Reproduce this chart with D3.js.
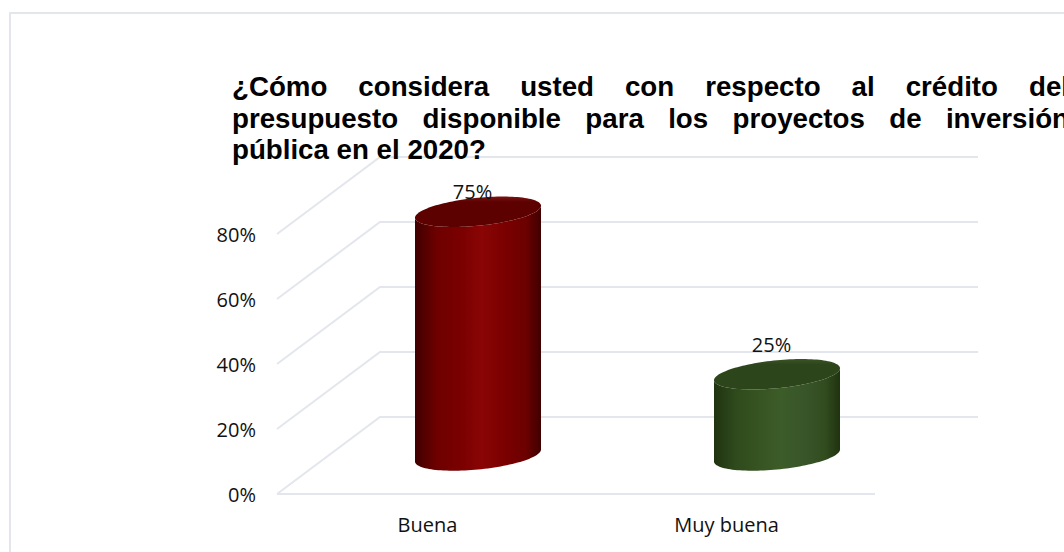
<!DOCTYPE html>
<html><head><meta charset="utf-8">
<style>html,body{margin:0;padding:0;background:#fff;overflow:hidden}svg{display:block}</style>
<script src="https://cdn.jsdelivr.net/npm/d3@7"></script></head><body>
<svg id="c" width="1064" height="552"></svg>
<script>
const categories = ["Buena", "Muy buena"];
const values = [75, 25];
const valueLabels = ["75%", "25%"];
const ticks = [0, 20, 40, 60, 80];
const titleLines = [
  "¿Cómo considera usted con respecto al crédito del",
  "presupuesto disponible para los proyectos de inversión",
  "pública en el 2020?"
];
const W = 1064, H = 552;
const svg = d3.select("#c");
const x = d3.scaleBand().domain(categories).range([277, 875]);
const y = d3.scaleLinear().domain([0, 80]).range([494, 234]);
const depthX = 103, depthY = -77;
const gridColor = "#e3e6ed";
const bodyFont = "'Open Sans','Noto Sans',sans-serif";

// frame
svg.append("rect").attr("x", 10).attr("y", 13).attr("width", W + 20).attr("height", H + 20)
  .attr("fill", "#fff").attr("stroke", "#e3e7ec").attr("stroke-width", 2);

// gridlines
const grid = svg.append("g").attr("fill", "none").attr("stroke", gridColor).attr("stroke-width", 2);
ticks.forEach(t => {
  const p = d3.path();
  p.moveTo(x.range()[0], y(t));
  p.lineTo(x.range()[0] + depthX, y(t) + depthY);
  p.lineTo(x.range()[1] + depthX, y(t) + depthY);
  grid.append("path").attr("d", p.toString());
});
grid.append("line").attr("x1", x.range()[0]).attr("x2", x.range()[1]).attr("y1", y(0)).attr("y2", y(0));

// tick labels
svg.append("g").selectAll("text").data(ticks).join("text")
  .attr("x", 256).attr("y", d => y(d) + 1).attr("dy", "0.35em").attr("text-anchor", "end")
  .attr("font-family", bodyFont).attr("font-size", 20).attr("fill", "#111")
  .text(d => d + "%");
svg.append("g").selectAll("text").data(categories).join("text")
  .attr("x", d => x(d) + x.bandwidth() / 2 + 1).attr("y", 525).attr("dy", "0.35em").attr("text-anchor", "middle")
  .attr("font-family", bodyFont).attr("font-size", 20).attr("fill", "#111")
  .text(d => d);

// cylinders
const defs = svg.append("defs");
const palettes = [
  {id:"g0", stops:["#3f0000","#6e0000","#7c0000","#8a0505","#7a0000","#6c0000","#3f0000"], top:"#5c0000", rim:"#7c1414"},
  {id:"g1", stops:["#1f3310","#2f4a1c","#375522","#3c5c28","#38552a","#324c1f","#1f3310"], top:"#2c451a", rim:"#3a5428"}
];
const stopOffsets = [0, 0.17, 0.38, 0.53, 0.72, 0.88, 1];
palettes.forEach(p => {
  const g = defs.append("linearGradient").attr("id", p.id);
  p.stops.forEach((s, i) => g.append("stop").attr("offset", stopOffsets[i]).attr("stop-color", s));
  const t = defs.append("linearGradient").attr("id", p.id + "t").attr("x2", 0).attr("y2", 1);
  t.append("stop").attr("offset", 0).attr("stop-color", p.rim);
  t.append("stop").attr("offset", 0.18).attr("stop-color", p.top);
  t.append("stop").attr("offset", 1).attr("stop-color", p.top);
});
const rx = 63, tiltY = 6, ry = 14;
const labelShift = [20, 29];
const ell = (cx, cy, t) => [cx + rx * Math.cos(t), cy - tiltY * Math.cos(t) - ry * Math.sin(t)];
const cyl = svg.append("g");
categories.forEach((c, i) => {
  const cx = x(c) + x.bandwidth() / 2 + depthX / 2;
  const y0 = y(0) + depthY / 2, y1 = y(values[i]) + depthY / 2;
  const n = 60, line = d3.line();
  const bottom = d3.range(n + 1).map(k => ell(cx, y0, Math.PI + Math.PI * k / n));
  const topBack = d3.range(n + 1).map(k => ell(cx, y1, 2 * Math.PI - Math.PI * k / n));
  cyl.append("path").attr("d", line(bottom.concat(topBack)) + "Z").attr("fill", `url(#${palettes[i].id})`);
  const top = d3.range(2 * n).map(k => ell(cx, y1, Math.PI * k / n));
  cyl.append("path").attr("d", line(top) + "Z").attr("fill", `url(#${palettes[i].id}t)`);
  cyl.append("text").attr("x", cx - 5.5).attr("y", y1 - labelShift[i]).attr("dy", "0.35em").attr("text-anchor", "middle")
    .attr("font-family", bodyFont).attr("font-size", 20).attr("fill", "#111")
    .text(valueLabels[i]);
});

// title (justified, runs past the right edge as in the reference)
const title = svg.append("g").attr("font-family", "'Liberation Sans',Arial,sans-serif")
  .attr("font-weight", "bold").attr("font-size", 27.7).attr("fill", "#000");
titleLines.forEach((l, i) => {
  const t = title.append("text").attr("x", 232).attr("y", 96 + i * 31.6).text(l);
  if (i < 2) {
    const w = t.node().getComputedTextLength();
    const gaps = l.split(" ").length - 1;
    t.attr("word-spacing", (837 - w) / gaps);
  }
});
</script></body></html>
